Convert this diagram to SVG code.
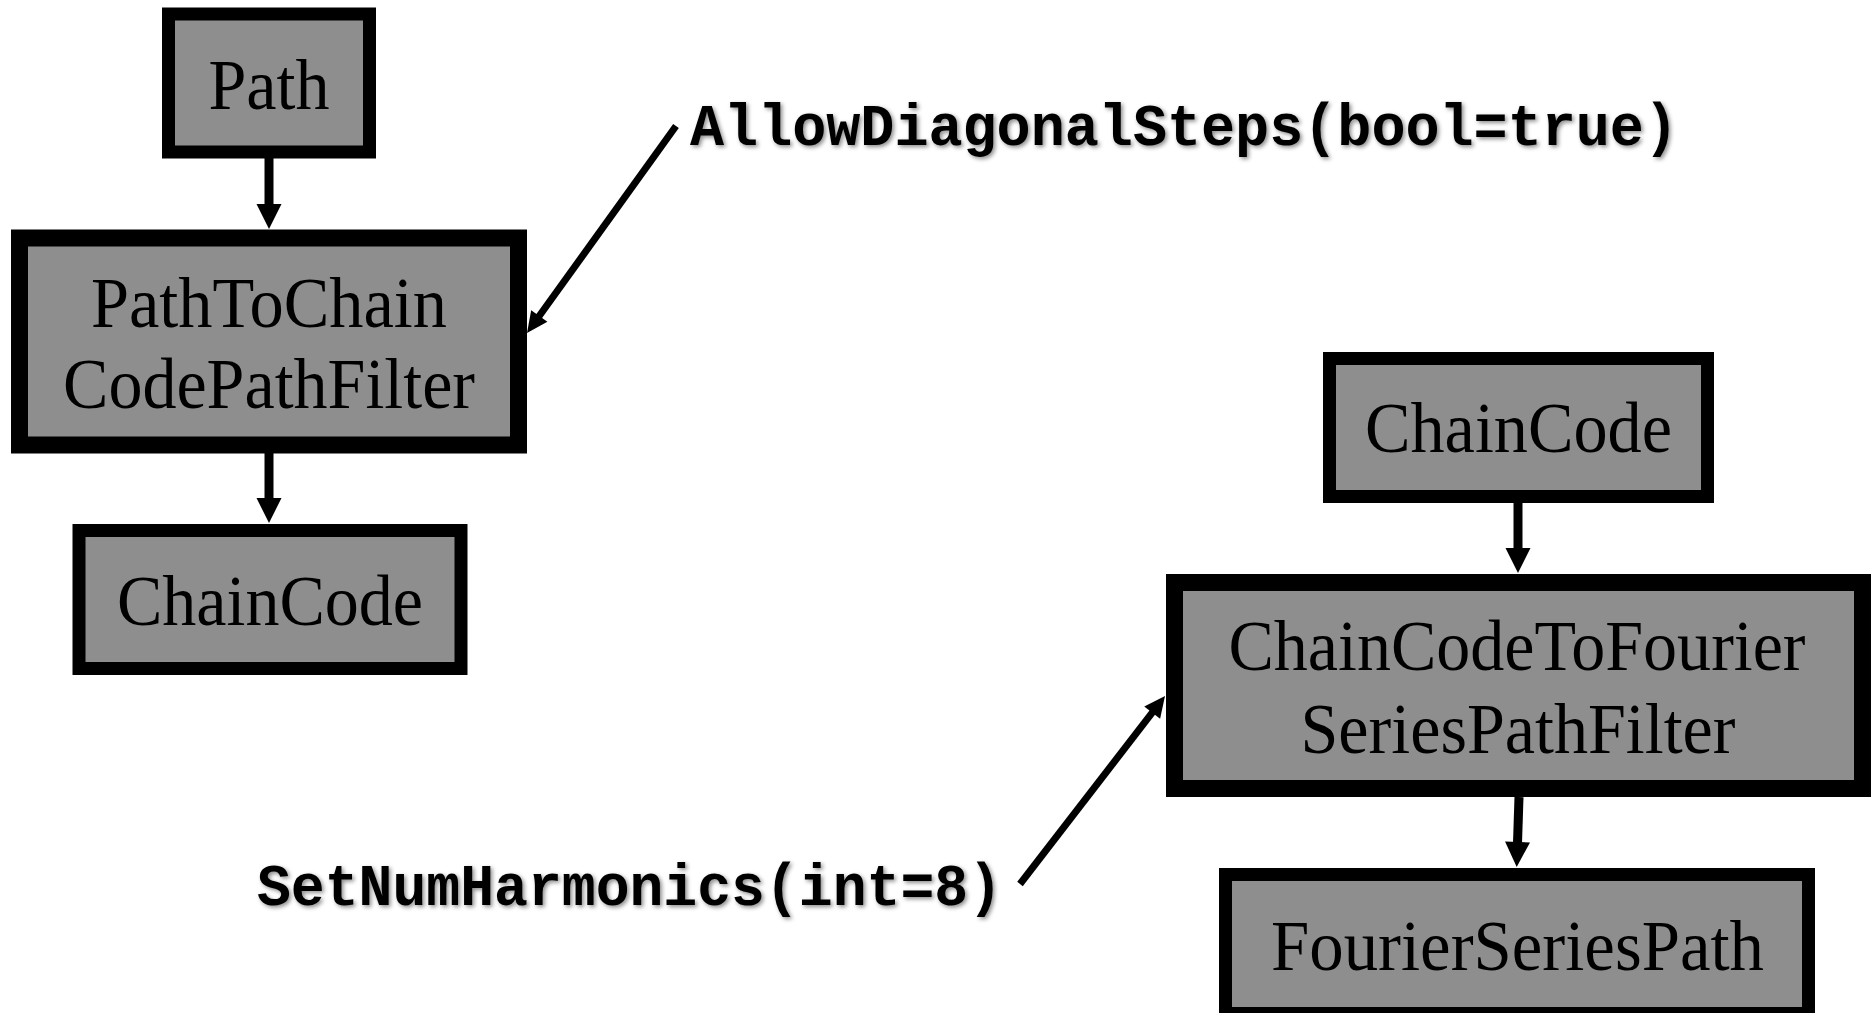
<svg xmlns="http://www.w3.org/2000/svg" width="1874" height="1013" viewBox="0 0 1874 1013">
  <style>
    .node rect { fill: #8e8e8e; stroke: #000; }
    .thick rect { stroke-width: 17; }
    .thin rect { stroke-width: 13; }
    .label { font-family: "Liberation Serif", "Times New Roman", serif; font-size: 71px; fill: #000; text-anchor: middle; }
    .param { font-family: "Liberation Mono", "Courier New", monospace; font-weight: bold; font-size: 60px; fill: #000; filter: url(#soft); }
    .flow { stroke: #000; stroke-width: 9; fill: none; marker-end: url(#head); }
    .setter { stroke: #000; stroke-width: 7; fill: none; marker-end: url(#headSmall); }
  </style>
  <defs>
    <marker id="head" markerUnits="userSpaceOnUse" markerWidth="26" markerHeight="26" viewBox="0 -13 26 26" refX="0" refY="0" orient="auto" overflow="visible">
      <path d="M-1,-12.5 L24,0 L-1,12.5 z" fill="#000"/>
    </marker>
    <marker id="headSmall" markerUnits="userSpaceOnUse" markerWidth="22" markerHeight="22" viewBox="0 -11 22 22" refX="0" refY="0" orient="auto" overflow="visible">
      <path d="M-1,-10 L20,0 L-1,10 z" fill="#000"/>
    </marker>
    <filter id="soft" x="-5%" y="-30%" width="110%" height="160%">
      <feGaussianBlur in="SourceAlpha" stdDeviation="2"/>
      <feOffset dx="1.5" dy="1.5" result="blur"/>
      <feFlood flood-color="#000" flood-opacity="0.45"/>
      <feComposite in2="blur" operator="in" result="shadow"/>
      <feMerge>
        <feMergeNode in="shadow"/>
        <feMergeNode in="SourceGraphic"/>
      </feMerge>
    </filter>
  </defs>

  <rect width="1874" height="1013" fill="#fff"/>

  <!-- connectors -->
  <g id="connectors">
    <line class="flow" x1="269" y1="158" x2="269" y2="205"/>
    <line class="flow" x1="269" y1="453" x2="269" y2="499"/>
    <line class="flow" x1="1518" y1="503" x2="1518" y2="549"/>
    <line class="flow" x1="1519" y1="797" x2="1517.5" y2="843"/>
    <line class="setter" x1="676" y1="126" x2="538.7" y2="316.8"/>
    <line class="setter" x1="1020" y1="884" x2="1152.8" y2="711.9"/>
  </g>

  <!-- left pipeline -->
  <g id="path-source" class="node thin">
    <rect x="168.5" y="14" width="201" height="138"/>
    <text class="label" x="269" y="109" textLength="121" lengthAdjust="spacingAndGlyphs">Path</text>
  </g>
  <g id="path-to-chaincode-filter" class="node thick">
    <rect x="19.5" y="238" width="499" height="207"/>
    <text class="label" x="269" y="327" textLength="356" lengthAdjust="spacingAndGlyphs">PathToChain</text>
    <text class="label" x="269" y="408" textLength="412" lengthAdjust="spacingAndGlyphs">CodePathFilter</text>
  </g>
  <g id="chaincode-output" class="node thin">
    <rect x="79" y="530.5" width="382" height="138"/>
    <text class="label" x="270" y="625" textLength="306" lengthAdjust="spacingAndGlyphs">ChainCode</text>
  </g>

  <!-- right pipeline -->
  <g id="chaincode-input" class="node thin">
    <rect x="1329.5" y="358.5" width="378" height="138"/>
    <text class="label" x="1518.5" y="452" textLength="307" lengthAdjust="spacingAndGlyphs">ChainCode</text>
  </g>
  <g id="chaincode-to-fourier-filter" class="node thick">
    <rect x="1174.5" y="582.5" width="688" height="206"/>
    <text class="label" x="1517" y="670" textLength="577" lengthAdjust="spacingAndGlyphs">ChainCodeToFourier</text>
    <text class="label" x="1518" y="753" textLength="435" lengthAdjust="spacingAndGlyphs">SeriesPathFilter</text>
  </g>
  <g id="fourier-series-path" class="node thin">
    <rect x="1225.5" y="874.5" width="583" height="139"/>
    <text class="label" x="1517.5" y="970" textLength="493" lengthAdjust="spacingAndGlyphs">FourierSeriesPath</text>
  </g>

  <!-- filter parameters -->
  <g id="param-allow-diagonal">
    <text class="param" x="690" y="145" textLength="988" lengthAdjust="spacingAndGlyphs">AllowDiagonalSteps(bool=true)</text>
  </g>
  <g id="param-num-harmonics">
    <text class="param" x="257" y="905" textLength="745" lengthAdjust="spacingAndGlyphs">SetNumHarmonics(int=8)</text>
  </g>
</svg>
